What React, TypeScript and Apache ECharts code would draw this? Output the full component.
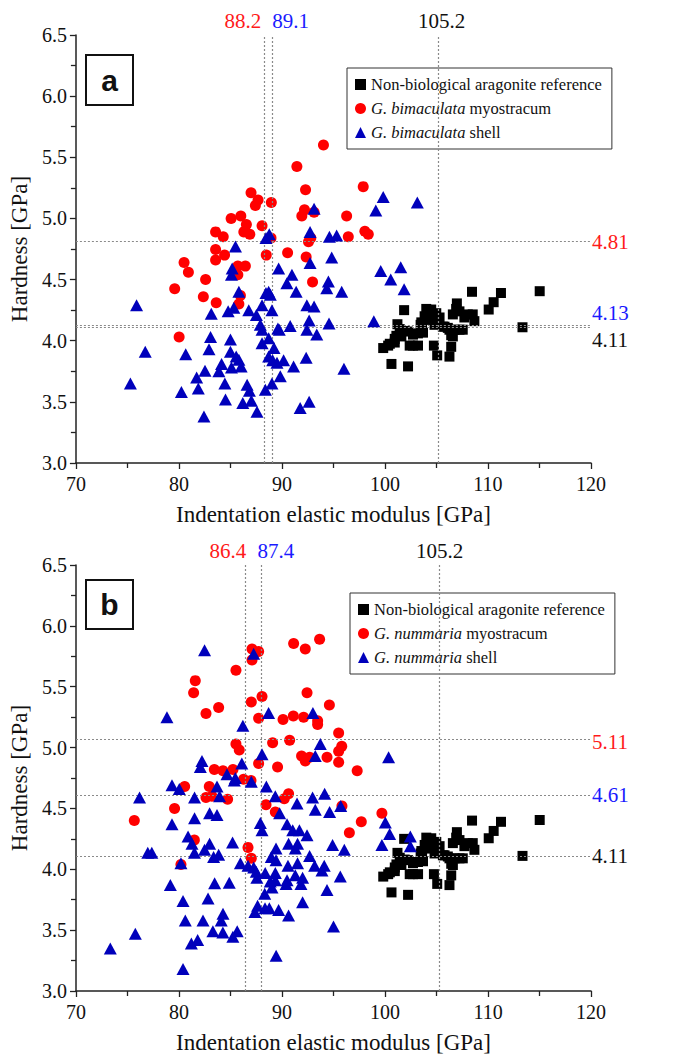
import React, { useEffect, useRef } from "react";
import * as echarts from "echarts";

const SERIF = "'Times New Roman', 'Liberation Serif', 'DejaVu Serif', serif";
const SANS = "Arial, 'Liberation Sans', sans-serif";

const xTicks = { min: 70, max: 120, interval: 10 };
const yTicks = { min: 3.0, max: 6.5, interval: 0.5 };

const REF_NAME = "Non-biological aragonite reference";
const namesA = ["G. bimaculata myostracum", "G. bimaculata shell"];
const namesB = ["G. nummaria myostracum", "G. nummaria shell"];

// Non-biological aragonite reference (same in both panels)
const refPoints: number[][] = [
  [108.45, 4.40], [111.26, 4.39], [115.02, 4.405], [110.55, 4.315], [110.07, 4.255],
  [106.98, 4.305], [101.86, 4.25], [104.49, 4.255], [104.23, 4.23], [103.85, 4.20],
  [104.81, 4.20], [105.14, 4.16], [103.53, 4.15], [106.59, 4.215], [107.23, 4.24],
  [108.52, 4.215], [108.68, 4.16], [107.71, 4.19], [101.21, 4.135], [105.62, 4.115],
  [106.1, 4.105], [113.35, 4.11], [107.23, 4.09], [101.91, 4.08], [102.72, 4.05],
  [103.69, 4.066], [106.43, 4.045], [101.11, 4.04], [100.95, 3.985], [99.83, 3.94],
  [100.31, 3.96], [102.4, 3.96], [103.21, 3.96], [104.75, 3.96], [106.43, 3.95],
  [105.07, 3.88], [106.26, 3.87], [100.63, 3.81], [102.24, 3.79],
  [104.01, 4.26], [104.98, 4.225], [105.3, 4.19], [104.33, 4.17], [104.81, 4.13],
  [105.78, 4.115], [106.26, 4.09], [106.75, 4.09], [107.55, 4.09], [106.59, 4.035],
  [106.91, 4.26], [108.04, 4.215], [101.43, 4.095], [101.59, 4.035], [102.24, 4.075],
  [103.2, 4.06], [103.6, 4.10], [103.46, 4.13], [100.47, 3.975], [100.95, 4.015],
  [102.72, 3.96], [104.17, 4.23],
];

// Panel a: G. bimaculata myostracum
const myoA: number[][] = [
  [94.03, 5.60], [91.45, 5.425], [92.29, 5.235], [97.89, 5.26], [87.0, 5.21],
  [87.68, 5.15], [87.42, 5.105], [88.97, 5.13], [86.01, 5.02], [85.07, 5.00],
  [86.55, 4.95], [86.3, 4.89], [86.88, 4.87], [88.07, 4.94], [83.56, 4.89],
  [84.3, 4.85], [88.94, 4.84], [91.93, 5.02], [92.19, 5.07], [93.12, 5.05],
  [96.28, 5.02], [92.58, 4.81], [92.8, 4.84], [96.44, 4.85], [98.05, 4.895],
  [98.38, 4.87], [90.55, 4.72], [83.56, 4.745], [83.56, 4.66], [84.43, 4.70],
  [88.48, 4.70], [92.35, 4.685], [80.5, 4.64], [80.92, 4.56], [85.72, 4.61],
  [86.45, 4.61], [85.72, 4.54], [82.59, 4.50], [92.97, 4.48], [79.59, 4.425],
  [82.37, 4.36], [83.62, 4.31], [85.97, 4.37], [85.82, 4.30], [80.02, 4.03],
];

// Panel a: G. bimaculata shell
const shellA: number[][] = [
  [88.77, 4.87], [92.73, 4.89], [94.61, 4.85], [95.31, 4.86], [85.49, 4.77],
  [89.68, 4.59], [90.97, 4.54], [90.48, 4.47], [91.38, 4.40], [94.83, 4.68],
  [92.73, 4.635], [85.17, 4.59], [85.1, 4.54], [94.51, 4.485], [94.35, 4.43],
  [95.8, 4.40], [88.71, 4.40], [88.45, 4.39], [88.87, 4.375], [85.82, 4.40],
  [92.42, 4.29], [93.12, 4.28], [88.07, 4.29], [89.03, 4.25], [86.78, 4.25],
  [84.78, 4.24], [85.33, 4.27], [83.14, 4.22], [87.52, 4.21], [75.89, 4.29],
  [92.64, 4.165], [94.57, 4.14], [90.8, 4.12], [89.61, 4.10], [89.74, 4.09],
  [87.9, 4.13], [88.07, 4.09], [92.42, 4.09], [93.38, 4.05], [83.07, 4.03],
  [85.0, 4.01], [88.71, 4.02], [88.07, 3.98], [76.73, 3.91], [80.66, 3.89],
  [82.92, 3.93], [85.0, 3.91], [89.23, 3.94], [85.56, 3.87], [85.82, 3.845],
  [88.71, 3.87], [89.1, 3.84], [89.52, 3.82], [90.16, 3.84], [92.35, 3.86],
  [91.13, 3.79], [84.14, 3.81], [83.88, 3.75], [85.1, 3.78], [86.04, 3.79],
  [82.53, 3.755], [81.72, 3.70], [96.02, 3.77], [89.84, 3.71], [89.03, 3.65],
  [75.29, 3.65], [80.24, 3.58], [81.88, 3.61], [84.46, 3.65], [86.62, 3.64],
  [86.84, 3.59], [88.39, 3.60], [84.52, 3.52], [86.2, 3.49], [87.03, 3.51],
  [87.58, 3.42], [82.43, 3.38], [91.77, 3.45], [92.64, 3.50], [99.59, 4.57],
  [101.53, 4.60], [100.56, 4.50], [101.86, 4.42], [98.92, 4.16], [99.83, 5.175],
  [103.14, 5.13], [99.11, 5.065], [93.12, 5.08], [88.45, 4.84],
];

// Panel b: G. nummaria myostracum
const myoB: number[][] = [
  [93.65, 5.89], [91.13, 5.855], [92.26, 5.81], [87.09, 5.81], [87.73, 5.79],
  [87.09, 5.72], [85.53, 5.635], [81.58, 5.55], [81.42, 5.45], [92.43, 5.45],
  [88.06, 5.42], [87.02, 5.375], [83.85, 5.33], [94.6, 5.35], [82.62, 5.28],
  [87.73, 5.24], [90.1, 5.23], [91.1, 5.26], [92.1, 5.25], [93.46, 5.22],
  [93.46, 5.19], [95.5, 5.12], [90.74, 5.06], [89.09, 5.04], [85.53, 5.03],
  [85.85, 4.98], [95.8, 5.01], [95.5, 4.97], [91.9, 4.93], [92.26, 4.89],
  [92.68, 4.92], [94.37, 4.92], [95.5, 4.88], [87.73, 4.87], [89.57, 4.84],
  [97.3, 4.81], [83.43, 4.82], [84.27, 4.81], [85.24, 4.82], [86.27, 4.74],
  [86.99, 4.73], [82.94, 4.68], [80.55, 4.68], [90.64, 4.62], [90.22, 4.58],
  [82.62, 4.59], [83.2, 4.60], [84.72, 4.575], [88.45, 4.53], [79.57, 4.50],
  [95.82, 4.52], [75.66, 4.40], [89.35, 4.47], [97.7, 4.39], [96.54, 4.30],
  [81.49, 4.24], [86.7, 4.18], [87.02, 4.09], [80.19, 4.04], [99.7, 4.46],
];

// Panel b: G. nummaria shell
const shellB: number[][] = [
  [82.48, 5.80], [87.25, 5.77], [78.83, 5.25], [88.7, 5.285], [93.0, 5.285],
  [86.2, 5.18], [93.72, 5.03], [93.23, 4.93], [88.06, 4.945], [86.1, 4.87],
  [82.23, 4.89], [82.07, 4.84], [84.66, 4.78], [85.47, 4.75], [85.37, 4.73],
  [87.02, 4.72], [79.32, 4.69], [80.03, 4.66], [83.69, 4.68], [83.94, 4.60],
  [88.48, 4.68], [89.35, 4.60], [91.46, 4.54], [92.97, 4.59], [94.14, 4.62],
  [76.17, 4.59], [81.51, 4.59], [95.7, 4.52], [94.62, 4.47], [93.23, 4.49],
  [89.77, 4.46], [82.97, 4.46], [83.69, 4.445], [79.32, 4.37], [81.51, 4.42],
  [87.9, 4.38], [88.06, 4.32], [90.49, 4.37], [91.04, 4.32], [91.69, 4.32],
  [92.43, 4.28], [80.88, 4.27], [81.26, 4.21], [82.97, 4.21], [82.48, 4.16],
  [85.2, 4.22], [89.42, 4.17], [90.64, 4.21], [91.51, 4.21], [91.29, 4.17],
  [94.91, 4.20], [96.05, 4.16], [76.97, 4.135], [77.36, 4.135], [81.5, 4.135],
  [83.36, 4.10], [83.85, 4.12], [88.96, 4.10], [89.42, 4.075], [92.68, 4.11],
  [85.96, 4.05], [86.7, 4.03], [87.25, 4.015], [80.19, 4.05], [90.58, 4.03],
  [91.51, 4.05], [93.17, 4.03], [94.1, 4.03], [93.88, 3.99], [87.5, 3.98],
  [88.37, 3.97], [87.56, 3.93], [89.35, 3.97], [91.29, 3.95], [92.0, 3.93],
  [95.66, 3.94], [88.86, 3.90], [89.35, 3.91], [90.49, 3.91], [90.4, 3.88],
  [79.16, 3.87], [83.46, 3.885], [84.88, 3.89], [89.03, 3.85], [91.84, 3.88],
  [94.37, 3.83], [88.32, 3.80], [80.39, 3.74], [82.82, 3.76], [92.0, 3.73],
  [87.63, 3.70], [87.37, 3.65], [88.35, 3.68], [88.77, 3.68], [89.67, 3.665],
  [90.64, 3.62], [84.27, 3.635], [84.1, 3.58], [80.61, 3.58], [82.33, 3.58],
  [83.29, 3.49], [84.26, 3.48], [85.23, 3.445], [85.65, 3.49], [95.0, 3.53],
  [75.76, 3.47], [81.2, 3.39], [81.81, 3.42], [73.33, 3.35], [89.43, 3.29],
  [80.39, 3.18], [100.35, 4.92], [100.03, 4.385], [100.45, 4.29], [99.7, 4.20],
  [102.46, 4.27], [102.46, 4.19],
];

// Mean guide lines: position on the axis and the printed label
const meanXA = [88.25, 89.1, 105.2];
const meanXALabels = ["88.2", "89.1", "105.2"];
const meanYA = [4.81, 4.13, 4.11];
const meanYALabels = ["4.81", "4.13", "4.11"];
const meanXB = [86.4, 87.95, 105.3];
const meanXBLabels = ["86.4", "87.4", "105.2"];
const meanYB = [5.07, 4.61, 4.11];
const meanYBLabels = ["5.11", "4.61", "4.11"];

const RED = "#ff0000";
const BLUE = "#0000bb";
const BLACK = "#000000";
const LABEL_COLORS = ["#ff1a1a", "#1a1aff", "#111111"];

const GRIDS = [
  { left: 73, top: 35, width: 518, height: 428 },
  { left: 76, top: 565, width: 515, height: 426 },
];

function makeXAxis(gridIndex: number) {
  return {
    gridIndex,
    type: "value",
    min: xTicks.min,
    max: xTicks.max,
    interval: xTicks.interval,
    splitLine: { show: false },
    axisLine: { show: true, onZero: false, lineStyle: { color: "#222", width: 1.5 } },
    axisTick: { show: true, inside: false, length: 6, lineStyle: { color: "#222", width: 1.3 } },
    minorTick: { show: true, splitNumber: 2, length: 5, lineStyle: { color: "#222", width: 1.3 } },
    minorSplitLine: { show: false },
    axisLabel: { color: "#111", fontFamily: SERIF, fontSize: 20, margin: 11 },
    name: "Indentation elastic modulus [GPa]",
    nameLocation: "middle",
    nameGap: 40,
    nameTextStyle: { color: "#111", fontFamily: SERIF, fontSize: 23 },
  };
}

function makeYAxis(gridIndex: number) {
  return {
    gridIndex,
    type: "value",
    min: yTicks.min,
    max: yTicks.max,
    interval: yTicks.interval,
    splitLine: { show: false },
    axisLine: { show: true, onZero: false, lineStyle: { color: "#222", width: 1.5 } },
    axisTick: { show: true, inside: false, length: 6, lineStyle: { color: "#222", width: 1.3 } },
    minorTick: { show: true, splitNumber: 2, length: 5, lineStyle: { color: "#222", width: 1.3 } },
    minorSplitLine: { show: false },
    axisLabel: {
      color: "#111",
      fontFamily: SERIF,
      fontSize: 20,
      margin: 9,
      formatter: (v: number) => v.toFixed(1),
    },
    name: "Hardness [GPa]",
    nameLocation: "middle",
    nameGap: 42,
    nameRotate: 90,
    nameTextStyle: { color: "#111", fontFamily: SERIF, fontSize: 23 },
  };
}

const guideStyle = { color: "#8a8a8a", width: 1.2, type: [2, 2] as any };

function guideSeries(idx: number, xs: number[], ys: number[]) {
  return {
    type: "scatter",
    name: "__guides" + idx,
    xAxisIndex: idx,
    yAxisIndex: idx,
    data: [],
    z: 1,
    silent: true,
    markLine: {
      silent: true,
      symbol: ["none", "none"],
      animation: false,
      label: { show: false },
      lineStyle: guideStyle,
      data: [...xs.map((x) => ({ xAxis: x })), ...ys.map((y) => ({ yAxis: y }))],
    },
  };
}

function scatter(name: string, idx: number, data: number[][], symbol: string, size: any, color: string, z: number) {
  return {
    type: "scatter",
    name,
    xAxisIndex: idx,
    yAxisIndex: idx,
    data,
    symbol,
    symbolSize: size,
    itemStyle: { color, opacity: 1 },
    z,
  };
}

function legendFormatter(name: string) {
  if (name.startsWith("G. ")) {
    const parts = name.split(" ");
    return `{i|${parts[0]} ${parts[1]}} ${parts.slice(2).join(" ")}`;
  }
  return name;
}

function makeLegend(names: string[], left: number, top: number) {
  return {
    orient: "vertical",
    left,
    top,
    selectedMode: false,
    itemWidth: 11,
    itemHeight: 11,
    itemGap: 7,
    padding: [8, 10, 8, 8],
    borderColor: "#333",
    borderWidth: 1,
    backgroundColor: "#fff",
    formatter: legendFormatter,
    textStyle: {
      color: "#111",
      fontFamily: SERIF,
      fontSize: 16.5,
      lineHeight: 16,
      rich: { i: { fontStyle: "italic", fontFamily: SERIF, fontSize: 16.5, color: "#111", lineHeight: 16 } },
    },
    data: [
      { name: REF_NAME, icon: "rect", itemStyle: { color: BLACK } },
      { name: names[0], icon: "circle", itemStyle: { color: RED } },
      { name: names[1], icon: "triangle", itemStyle: { color: BLUE } },
    ],
  };
}

export default function App() {
  const ref = useRef<HTMLDivElement>(null);
  useEffect(() => {
    if (!ref.current) return;
    const chart = echarts.init(ref.current, null, { renderer: "svg" });
    const option: any = {
      animation: false,
      backgroundColor: "#ffffff",
      textStyle: { fontFamily: SERIF },
      grid: GRIDS.map((g) => ({ ...g, containLabel: false })),
      xAxis: [makeXAxis(0), makeXAxis(1)],
      yAxis: [makeYAxis(0), makeYAxis(1)],
      legend: [makeLegend(namesA, 347, 68), makeLegend(namesB, 350, 593)],
      series: [
        guideSeries(0, meanXA, meanYA),
        guideSeries(1, meanXB, meanYB),
        scatter(REF_NAME, 0, refPoints, "rect", 10, BLACK, 3),
        scatter(namesA[0], 0, myoA, "circle", 11, RED, 4),
        scatter(namesA[1], 0, shellA, "triangle", [13, 12], BLUE, 5),
        scatter(REF_NAME, 1, refPoints, "rect", 10, BLACK, 3),
        scatter(namesB[0], 1, myoB, "circle", 11, RED, 4),
        scatter(namesB[1], 1, shellB, "triangle", [13, 12], BLUE, 5),
      ],
    };
    chart.setOption(option);

    const graphics: any[] = [];
    const panels = [
      { idx: 0, xs: meanXA, xl: meanXALabels, xo: [-21, 18, 3], ys: meanYA, yl: meanYALabels, yo: [0, -12, 13], letter: "a", box: [86, 55, 47, 50] },
      { idx: 1, xs: meanXB, xl: meanXBLabels, xo: [-17, 15, 0], ys: meanYB, yl: meanYBLabels, yo: [3, 0, 0], letter: "b", box: [86, 580, 47, 49] },
    ];
    panels.forEach((p) => {
      const g = GRIDS[p.idx];
      p.xs.forEach((x, i) => {
        const px = chart.convertToPixel({ xAxisIndex: p.idx }, x) as number;
        graphics.push({
          type: "text",
          x: px + p.xo[i],
          y: g.top - 14,
          style: {
            text: p.xl[i],
            fill: LABEL_COLORS[i],
            fontFamily: SERIF,
            fontSize: 21,
            align: "center",
            verticalAlign: "middle",
          },
        });
      });
      p.ys.forEach((y, i) => {
        const py = chart.convertToPixel({ yAxisIndex: p.idx }, y) as number;
        graphics.push({
          type: "text",
          x: g.left + g.width + 1,
          y: py + p.yo[i],
          style: {
            text: p.yl[i],
            fill: LABEL_COLORS[i],
            fontFamily: SERIF,
            fontSize: 21,
            align: "left",
            verticalAlign: "middle",
          },
        });
      });
      const [bx, by, bw, bh] = p.box;
      graphics.push({
        type: "rect",
        shape: { x: bx, y: by, width: bw, height: bh },
        style: { fill: "#fff", stroke: "#111", lineWidth: 2 },
        z: 10,
      });
      graphics.push({
        type: "text",
        x: bx + bw / 2,
        y: by + bh / 2,
        z: 11,
        style: {
          text: p.letter,
          fill: "#111",
          fontFamily: SANS,
          fontWeight: "bold",
          fontSize: 30,
          align: "center",
          verticalAlign: "middle",
        },
      });
    });
    chart.setOption({ graphic: graphics });

    return () => chart.dispose();
  }, []);
  return (
    <div
      ref={ref}
      style={{ position: "absolute", left: 0, top: 0, width: 675, height: 1055, background: "#fff" }}
    />
  );
}
